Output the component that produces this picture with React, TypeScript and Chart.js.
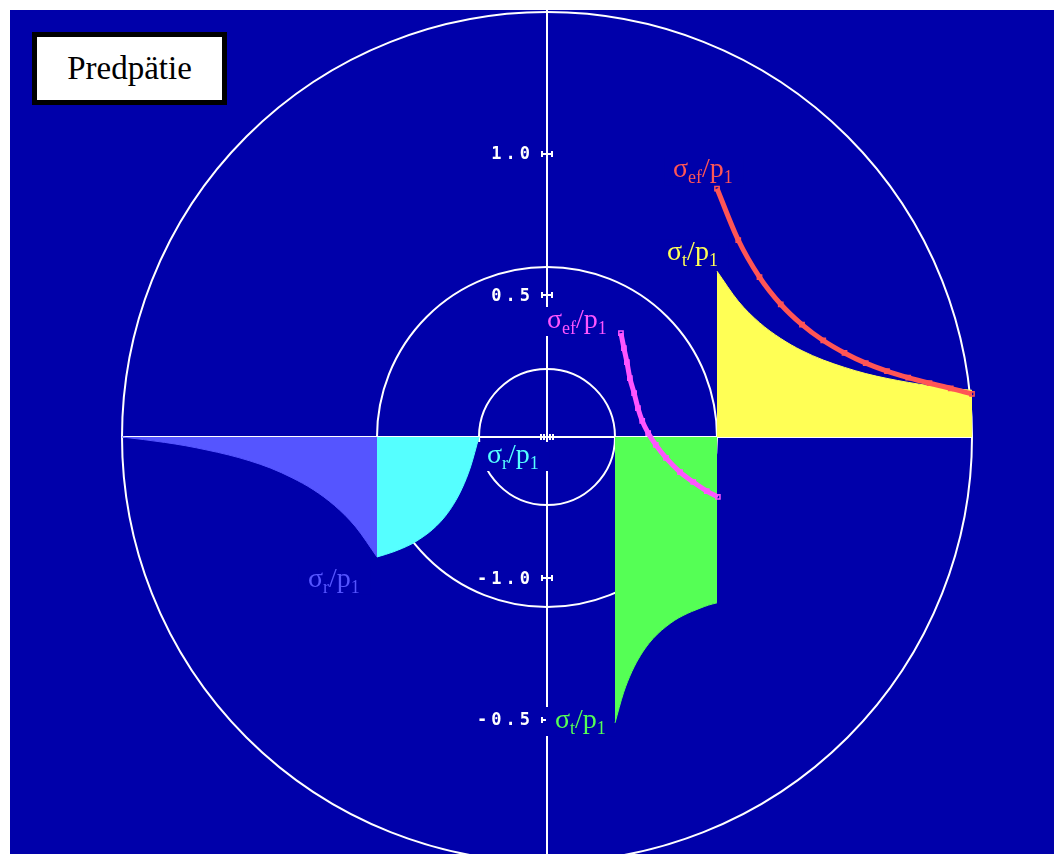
import React, { useEffect, useRef } from "react";
import { Chart, registerables } from "chart.js";

Chart.register(...registerables);

// ---------- data ----------
const outerR = [0.4, 0.45, 0.5, 0.55, 0.6, 0.65, 0.7, 0.75, 0.8, 0.85, 0.9, 0.95, 1.0];
const sigmaTOuter = [0.586, 0.48, 0.404, 0.348, 0.305, 0.272, 0.246, 0.224, 0.207, 0.193, 0.181, 0.172, 0.165];
const sigmaROuter = [-0.424, -0.318, -0.242, -0.186, -0.144, -0.11, -0.084, -0.063, -0.046, -0.031, -0.019, -0.009, 0];
const sigmaEfOuter = [0.878, 0.696, 0.565, 0.469, 0.397, 0.341, 0.297, 0.261, 0.233, 0.21, 0.19, 0.172, 0.152];

const innerR = [0.16, 0.18, 0.2, 0.22, 0.24, 0.26, 0.28, 0.3, 0.32, 0.34, 0.36, 0.38, 0.4];
const sigmaTInner = [-1.01, -0.904, -0.828, -0.772, -0.729, -0.696, -0.67, -0.648, -0.631, -0.617, -0.605, -0.594, -0.586];
const sigmaRInner = [0, -0.106, -0.182, -0.238, -0.281, -0.314, -0.34, -0.361, -0.379, -0.393, -0.405, -0.415, -0.424];

const efInnerR = [0.174, 0.181, 0.188, 0.195, 0.205, 0.214, 0.224, 0.238, 0.256, 0.28, 0.313, 0.344, 0.376, 0.402];
const sigmaEfInner = [0.367, 0.314, 0.265, 0.208, 0.155, 0.102, 0.057, 0.014, -0.028, -0.074, -0.124, -0.159, -0.191, -0.212];

const circleRadii = [0.16, 0.4, 1.0];
const yTickValues = [1.0, 0.5, -0.5, -1.0];
const yTickLabels = ["1.0", "0.5", "-1.0", "-0.5"];

// ---------- styles ----------
const BG = "#0000AA";
const LINE = "#FFFFFF";
const YELLOW = "#FFFF55";
const RED = "#FF5555";
const GREEN = "#55FF55";
const MAGENTA = "#FF55FF";
const CYAN = "#55FFFF";
const LBLUE = "#5555FF";

const MAIN_FONT = '28px "Liberation Serif"';
const SUB_FONT = '18px "Liberation Serif"';
const TICK_FONT = 'bold 17px "DejaVu Sans Mono"';

type Part = [string, boolean];
const seriesLabels: { parts: Part[]; color: string; x: number; y: number }[] = [
  { parts: [["σ", false], ["ef", true], ["/p", false], ["1", true]], color: RED, x: 0.2965, y: 0.9187 },
  { parts: [["σ", false], ["t", true], ["/p", false], ["1", true]], color: YELLOW, x: 0.2824, y: 0.6254 },
  { parts: [["σ", false], ["ef", true], ["/p", false], ["1", true]], color: MAGENTA, x: 0.0, y: 0.3852 },
  { parts: [["σ", false], ["r", true], ["/p", false], ["1", true]], color: CYAN, x: -0.1412, y: -0.0919 },
  { parts: [["σ", false], ["r", true], ["/p", false], ["1", true]], color: LBLUE, x: -0.5624, y: -0.53 },
  { parts: [["σ", false], ["t", true], ["/p", false], ["1", true]], color: GREEN, x: 0.0188, y: -1.0283 },
];

const pts = (xs: number[], ys: number[], sign = 1) =>
  xs.map((x, i) => ({ x: sign * x, y: ys[i] })).sort((a, b) => a.x - b.x);

function measureLabel(ctx: CanvasRenderingContext2D, parts: Part[]) {
  let w = 0;
  const items: { t: string; sub: boolean; dx: number }[] = [];
  for (const [t, sub] of parts) {
    ctx.font = sub ? SUB_FONT : MAIN_FONT;
    items.push({ t, sub, dx: w });
    w += ctx.measureText(t).width;
  }
  return { items, w };
}

const decorPlugin = {
  id: "decor",
  beforeDraw(chart: any) {
    const { ctx, chartArea: a } = chart;
    ctx.save();
    ctx.fillStyle = BG;
    ctx.fillRect(a.left, a.top, a.right - a.left, a.bottom - a.top);
    ctx.restore();
  },
  beforeDatasetsDraw(chart: any) {
    const { ctx } = chart;
    const xs = chart.scales.x;
    const ys = chart.scales.y;
    const cx = xs.getPixelForValue(0);
    const cy = ys.getPixelForValue(0);
    ctx.save();
    ctx.strokeStyle = LINE;
    ctx.lineWidth = 2;
    for (const r of circleRadii) {
      const rp = xs.getPixelForValue(r) - cx;
      ctx.beginPath();
      ctx.arc(cx, cy, rp, 0, Math.PI * 2);
      ctx.stroke();
    }
    const ext = circleRadii[circleRadii.length - 1];
    ctx.beginPath();
    ctx.moveTo(xs.getPixelForValue(-ext), cy);
    ctx.lineTo(xs.getPixelForValue(ext), cy);
    ctx.stroke();
    // tick marks |-|
    const marks = [...yTickValues, 0];
    for (const v of marks) {
      const py = Math.round(ys.getPixelForValue(v));
      ctx.beginPath();
      ctx.moveTo(cx - 5, py);
      ctx.lineTo(cx + 5, py);
      const caps = v === 0 ? [-6, -3, 3, 6] : [-5, 5];
      for (const c of caps) {
        ctx.moveTo(cx + c, py - 3);
        ctx.lineTo(cx + c, py + 3);
      }
      ctx.stroke();
    }
    // tick labels
    ctx.fillStyle = "#FFFFFF";
    ctx.font = TICK_FONT;
    (ctx as any).letterSpacing = "4px";
    ctx.textAlign = "right";
    ctx.textBaseline = "middle";
    yTickValues.forEach((v, i) => {
      ctx.fillText(yTickLabels[i], cx - 13, ys.getPixelForValue(v) + 1);
    });
    (ctx as any).letterSpacing = "0px";
    // label background boxes
    ctx.fillStyle = BG;
    for (const l of seriesLabels) {
      const px = xs.getPixelForValue(l.x);
      const py = ys.getPixelForValue(l.y);
      const { w } = measureLabel(ctx, l.parts);
      ctx.fillRect(px - 9, py - 21, w + 20, 29);
    }
    ctx.restore();
  },
  afterDatasetsDraw(chart: any) {
    const { ctx } = chart;
    const xs = chart.scales.x;
    const ys = chart.scales.y;
    ctx.save();
    ctx.textBaseline = "alphabetic";
    ctx.textAlign = "left";
    for (const l of seriesLabels) {
      const px = xs.getPixelForValue(l.x);
      const py = ys.getPixelForValue(l.y);
      const { items } = measureLabel(ctx, l.parts);
      ctx.fillStyle = l.color;
      for (const it of items) {
        ctx.font = it.sub ? SUB_FONT : MAIN_FONT;
        ctx.fillText(it.t, px + it.dx, py + (it.sub ? 6 : 0));
      }
    }
    ctx.restore();
  },
};

export default function App() {
  const ref = useRef<HTMLCanvasElement>(null);
  useEffect(() => {
    const canvas = ref.current!;
    const fillDs = (label: string, data: any[], color: string) => ({
      label,
      data,
      showLine: true,
      fill: "origin",
      backgroundColor: color,
      borderColor: color,
      borderWidth: 1,
      pointRadius: 0,
      cubicInterpolationMode: "monotone",
    });
    const ptDs = (label: string, data: any[], color: string) => ({
      label,
      data,
      showLine: true,
      fill: false,
      borderColor: color,
      borderWidth: 5,
      pointStyle: "rect",
      pointRadius: 3,
      pointBorderWidth: 1.5,
      pointBorderColor: color,
      pointBackgroundColor: "rgba(0,0,0,0)",
      cubicInterpolationMode: "monotone",
    });
    const chart = new Chart(canvas, {
      type: "scatter",
      data: {
        datasets: [
          ptDs("σef/p1 outer", pts(outerR, sigmaEfOuter), RED),
          ptDs("σef/p1 inner", pts(efInnerR, sigmaEfInner), MAGENTA),
          fillDs("σt/p1 outer", pts(outerR, sigmaTOuter), YELLOW),
          fillDs("σt/p1 inner", pts(innerR, sigmaTInner), GREEN),
          fillDs("σr/p1 inner", pts(innerR, sigmaRInner, -1), CYAN),
          fillDs("σr/p1 outer", pts(outerR, sigmaROuter, -1), LBLUE),
        ] as any,
      },
      options: {
        responsive: false,
        animation: false,
        devicePixelRatio: 1,
        layout: { autoPadding: false, padding: { left: 10, top: 10, right: 0, bottom: 0 } },
        plugins: { legend: { display: false }, tooltip: { enabled: false } },
        scales: {
          x: { type: "linear", min: -1.26353, max: 1.19294, display: false },
          y: {
            type: "linear",
            min: -1.4735,
            max: 1.50883,
            position: { x: 0 } as any,
            grid: { display: false, drawTicks: false },
            border: { display: true, color: LINE, width: 2 },
            afterBuildTicks: (axis: any) => {
              axis.ticks = yTickValues.map((v) => ({ value: v }));
            },
            ticks: { display: false },
          },
        },
      } as any,
      plugins: [decorPlugin as any],
    });
    return () => chart.destroy();
  }, []);
  return (
    <div style={{ position: "fixed", left: 0, top: 0, width: 1054, height: 854, background: "#fff" }}>
      <canvas ref={ref} width={1054} height={854} style={{ display: "block", width: 1054, height: 854 }} />
      <div
        style={{
          position: "absolute",
          left: 32,
          top: 32,
          width: 195,
          height: 73,
          boxSizing: "border-box",
          border: "5px solid #000",
          background: "#fff",
          fontFamily: '"Liberation Serif"',
          fontSize: 33,
          color: "#000",
          display: "flex",
          alignItems: "center",
          justifyContent: "center",
        }}
      >
        Predpätie
      </div>
    </div>
  );
}
